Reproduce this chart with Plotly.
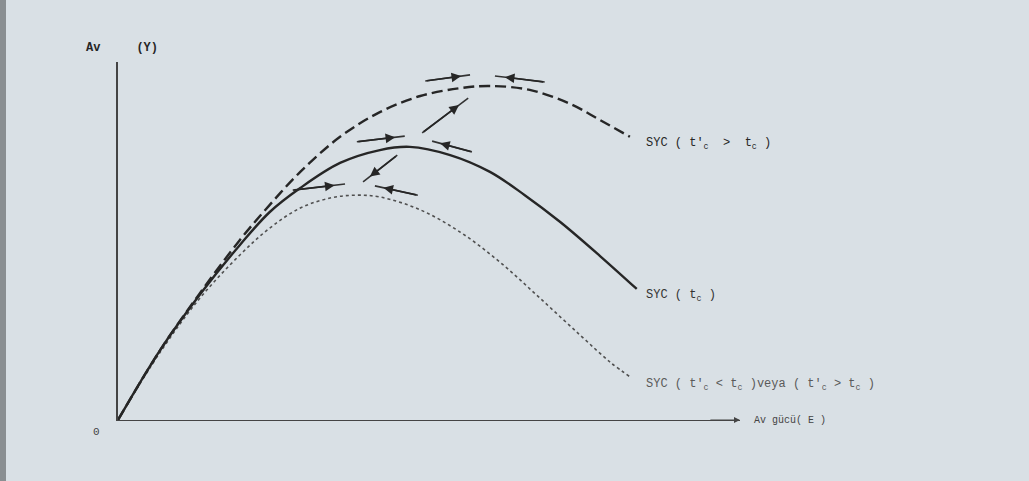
import plotly.graph_objects as go

# Effort (E) and yield (Y) values (axis units 0-100)
solid_x = [0, 6.8, 13.2, 19.6, 24.4, 29.3, 35.7, 42.1, 46.9, 53.4, 59.8, 65.4, 71.1, 77.5, 83.4]
solid_y = [0, 19.6, 35.1, 48.9, 58.1, 64.8, 71.8, 75.4, 76.3, 74.0, 69.3, 62.8, 55.3, 45.8, 36.6]

dashed_x = [0, 6.8, 13.2, 19.6, 24.4, 29.3, 35.7, 42.1, 48.6, 55.0, 59.8, 66.2, 72.7, 77.5, 82.3]
dashed_y = [0, 19.6, 35.5, 50.3, 60.1, 69.3, 79.1, 86.0, 90.5, 92.7, 93.3, 92.2, 88.3, 83.8, 79.1]

dotted_x = [0, 6.8, 13.2, 19.6, 24.4, 29.3, 34.1, 38.1, 42.1, 48.6, 55.0, 61.4, 67.8, 74.3, 79.1, 82.6]
dotted_y = [0, 19.0, 34.1, 46.1, 53.6, 59.2, 62.0, 62.8, 62.3, 58.7, 52.5, 44.1, 34.1, 23.7, 16.2, 11.7]

# arrows: (x_from, y_from) -> (x_to, y_to)
arrow_from_x = [49.4, 68.6, 38.4, 56.9, 28.1, 48.2, 48.9, 44.9]
arrow_from_y = [94.7, 94.4, 77.7, 74.9, 64.2, 62.8, 80.2, 74.0]
arrow_to_x = [56.6, 60.6, 46.1, 50.5, 36.5, 41.3, 56.3, 39.4]
arrow_to_y = [96.4, 96.1, 79.3, 77.9, 65.9, 65.4, 89.9, 66.5]

curve_labels = ["SYC ( t'<sub>c</sub>  >  t<sub>c</sub> )", "SYC ( t<sub>c</sub> )",
                "SYC ( t'<sub>c</sub> < t<sub>c</sub> )veya ( t'<sub>c</sub> > t<sub>c</sub> )"]

bg = "#d9e0e5"
ink = "#262626"
mono = "Liberation Mono"

fig = go.Figure()
fig.add_trace(go.Scatter(x=dotted_x, y=dotted_y, mode="lines",
                         line=dict(color="#505050", width=1.6, dash="dot", shape="spline", smoothing=1.0)))
fig.add_trace(go.Scatter(x=solid_x, y=solid_y, mode="lines",
                         line=dict(color=ink, width=2.4, shape="spline", smoothing=1.0)))
fig.add_trace(go.Scatter(x=dashed_x, y=dashed_y, mode="lines",
                         line=dict(color=ink, width=2.4, dash="11px,5px", shape="spline", smoothing=1.0)))

anns = []
for x0, y0, x1, y1 in zip(arrow_from_x, arrow_from_y, arrow_to_x, arrow_to_y):
    fig.add_trace(go.Scatter(x=[x0, x1], y=[y0, y1], mode="lines", line=dict(color="#333", width=1.6)))
    tx = x0 + 0.8 * (x1 - x0)
    ty = y0 + 0.8 * (y1 - y0)
    anns.append(dict(x=tx, y=ty, ax=x0, ay=y0, xref="x", yref="y", axref="x", ayref="y",
                     showarrow=True, arrowhead=2, arrowsize=1.2, arrowwidth=1.6, arrowcolor=ink, text=""))
# x axis arrow
anns.append(dict(x=100, y=0, ax=95, ay=0, xref="x", yref="y", axref="x", ayref="y",
                 showarrow=True, arrowhead=2, arrowsize=1, arrowwidth=1.2, arrowcolor="#444", text=""))

label_y = [dashed_y[-1], solid_y[-1], dotted_y[-1]]
label_colors = [ink, "#333", "#5a5a5a"]
for t, yv, c in zip(curve_labels, label_y, label_colors):
    anns.append(dict(x=84.5, y=yv - 2, xref="x", yref="y", text=t, showarrow=False, xanchor="left",
                     font=dict(size=12, color=c, family=mono)))
anns.append(dict(x=1.02, y=0.0, xref="paper", yref="paper", text="Av gücü( E )", showarrow=False,
                 xanchor="left", yanchor="middle", font=dict(size=10, color="#444", family=mono)))
anns.append(dict(x=-0.055, y=1.04, xref="paper", yref="paper", text="<b>Av</b>     <b>(Y)</b>", showarrow=False,
                 xanchor="left", yanchor="middle", font=dict(size=12, color=ink, family=mono)))
anns.append(dict(x=-0.025, y=-0.055, xref="paper", yref="paper", text="0", showarrow=False, xanchor="right",
                 font=dict(size=11, color="#444", family=mono)))

fig.update_layout(
    width=1029, height=481,
    margin=dict(l=118, r=289, t=62, b=61),
    paper_bgcolor=bg, plot_bgcolor=bg,
    showlegend=False,
    xaxis=dict(range=[0, 100], showgrid=False, zeroline=False, showticklabels=False,
               showline=True, linecolor="#444", linewidth=1.2),
    yaxis=dict(range=[0, 100], showgrid=False, zeroline=False, showticklabels=False,
               showline=True, linecolor="#444", linewidth=1.5),
    annotations=anns,
    shapes=[dict(type="rect", xref="paper", yref="paper", x0=-118/622, x1=-112/622, y0=-61/358, y1=420/358,
                 fillcolor="#8a8f92", line=dict(width=0), layer="below")],
)

fig.write_html("out.html", config={"displayModeBar": False},
               post_script="document.body.style.margin='0';document.body.style.overflow='hidden';")
